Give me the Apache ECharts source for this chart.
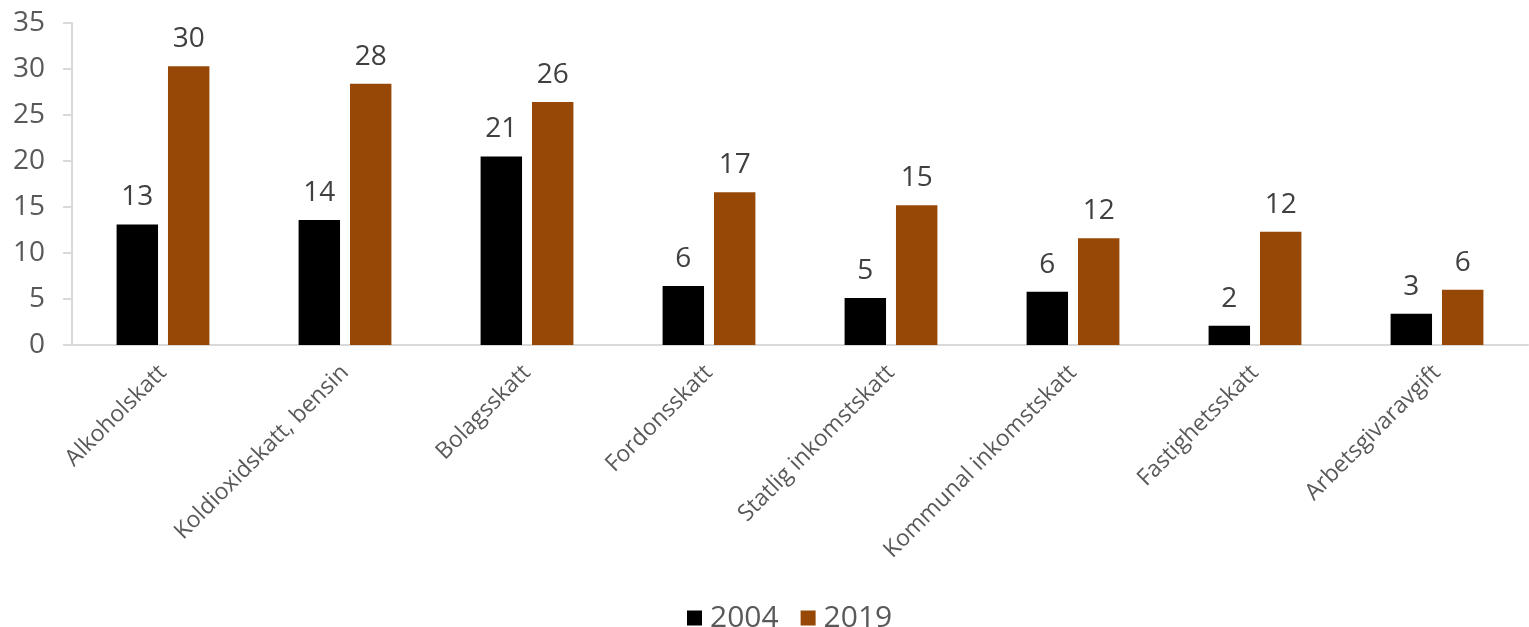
<!DOCTYPE html>
<html><head><meta charset="utf-8">
<script src="https://cdn.jsdelivr.net/npm/echarts@6/dist/echarts.min.js"></script>
<style>html,body{margin:0;padding:0;background:#fff}#c{width:1529px;height:627px}</style>
</head><body><div id="c"></div>
<script>
const categories = ["Alkoholskatt","Koldioxidskatt, bensin","Bolagsskatt","Fordonsskatt","Statlig inkomstskatt","Kommunal inkomstskatt","Fastighetsskatt","Arbetsgivaravgift"];
const values2004 = [13.1, 13.6, 20.5, 6.4, 5.1, 5.8, 2.1, 3.4];
const values2019 = [30.3, 28.4, 26.4, 16.6, 15.2, 11.6, 12.3, 6.0];
const seriesNames = ["2004", "2019"];
const yTicks = [0, 5, 10, 15, 20, 25, 30, 35];

const font = "'Open Sans', 'Noto Sans', sans-serif";
const chart = echarts.init(document.getElementById('c'), null, {renderer: 'canvas'});
const labelCfg = {show: true, position: 'top', distance: 13, color: '#404040', fontSize: 28, fontFamily: font,
  formatter: p => Math.round(p.value)};
chart.setOption({
  animation: false,
  grid: {left: 72, right: 1, top: 23, bottom: 282, containLabel: false},
  legend: {
    top: 598, left: 682, itemWidth: 15, itemHeight: 15, itemGap: 22,
    icon: 'rect',
    textStyle: {fontSize: 30, color: '#595959', fontFamily: font, padding: [0, 0, 0, 3]},
    data: seriesNames
  },
  xAxis: {
    type: 'category', data: categories,
    axisLine: {show: true, lineStyle: {color: '#d9d9d9', width: 2}},
    axisTick: {show: false},
    axisLabel: {rotate: 45, fontSize: 23, color: '#595959', fontFamily: font, margin: 24, interval: 0}
  },
  yAxis: {
    type: 'value', min: yTicks[0], max: yTicks[yTicks.length-1], interval: 5,
    axisLine: {show: true, lineStyle: {color: '#d9d9d9', width: 2}},
    axisTick: {show: true, length: 9, inside: false, lineStyle: {color: '#d9d9d9', width: 2}},
    splitLine: {show: false},
    axisLabel: {fontSize: 28, color: '#595959', fontFamily: font, margin: 27}
  },
  series: [
    {name: seriesNames[0], type: 'bar', data: values2004, itemStyle: {color: '#000000'}, barGap: '24%', barCategoryGap: '49%', label: labelCfg},
    {name: seriesNames[1], type: 'bar', data: values2019, itemStyle: {color: '#974806'}, label: labelCfg}
  ]
});
</script></body></html>
